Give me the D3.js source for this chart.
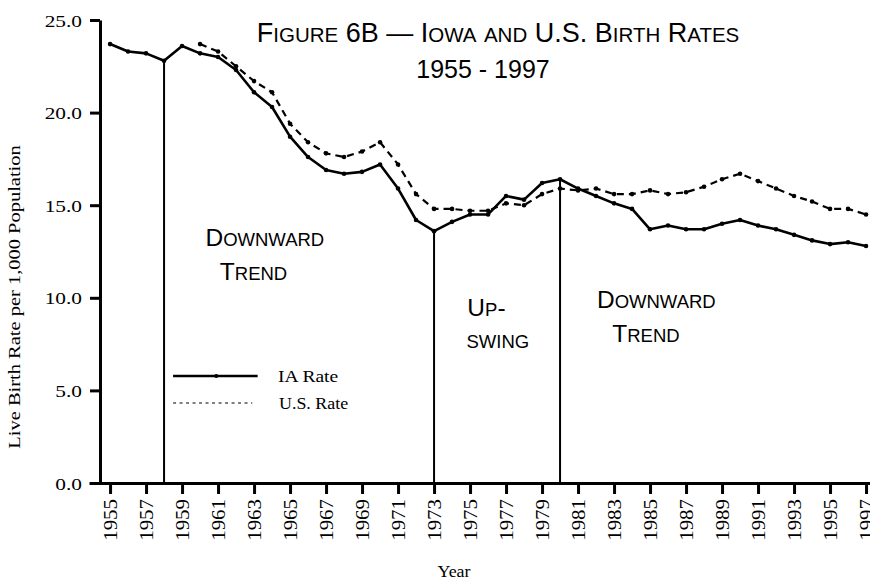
<!DOCTYPE html>
<html>
<head>
<meta charset="utf-8">
<script src="https://cdn.jsdelivr.net/npm/d3@7"></script>
<style>
  body { margin: 0; background: #fff; }
  svg { display: block; }
  .serif { font-family: "Liberation Serif", "Times New Roman", serif; fill: #000; }
  .sans { font-family: "Liberation Sans", Arial, sans-serif; fill: #000; }
</style>
</head>
<body>
<div id="chart"></div>
<script>
// Iowa rates 1955-1997, U.S. rates 1960-1997 (births per 1,000 population)
var iaYears = d3.range(1955, 1998);
var iaRates = [23.7, 23.3, 23.2, 22.8, 23.6, 23.2, 23.0, 22.3, 21.1, 20.3,
               18.7, 17.6, 16.9, 16.7, 16.8, 17.2, 15.9, 14.2, 13.6, 14.1,
               14.5, 14.5, 15.5, 15.3, 16.2, 16.4, 15.9, 15.5, 15.1, 14.8,
               13.7, 13.9, 13.7, 13.7, 14.0, 14.2, 13.9, 13.7, 13.4, 13.1,
               12.9, 13.0, 12.8];
var usYears = d3.range(1960, 1998);
var usRates = [23.7, 23.3, 22.5, 21.7, 21.1, 19.4, 18.4, 17.8, 17.6, 17.9,
               18.4, 17.2, 15.6, 14.8, 14.8, 14.7, 14.7, 15.1, 15.0, 15.6,
               15.9, 15.8, 15.9, 15.6, 15.6, 15.8, 15.6, 15.7, 16.0, 16.4,
               16.7, 16.3, 15.9, 15.5, 15.2, 14.8, 14.8, 14.5];
var xTicks = d3.range(1955, 1998, 2);
var yTicks = [0, 5, 10, 15, 20, 25];
// years where the trend turns
var turnYears = [1958, 1973, 1980];

var width = 870, height = 580;

var svg = d3.select('#chart').append('svg')
  .attr('width', width)
  .attr('height', height);

var x = d3.scaleLinear().domain([1953.83, 1997.22]).range([89, 870]);
var y = d3.scaleLinear().domain([0, 25]).range([483, 20]);

var ia = iaYears.map(function(yr, i) { return {year: yr, value: iaRates[i]}; });
var us = usYears.map(function(yr, i) { return {year: yr, value: usRates[i]}; });

// axes
var yAxis = svg.append('g')
  .attr('transform', 'translate(' + x(1955) + ',0)')
  .attr('transform', 'translate(100,0)')
  .call(d3.axisLeft(y).tickValues(yTicks).tickSize(10).tickSizeOuter(0).tickFormat(d3.format('.1f')));

yAxis.select('.domain').attr('stroke-width', 3);
yAxis.selectAll('.tick line').attr('stroke-width', 3);
yAxis.selectAll('.tick text')
  .attr('class', 'serif')
  .attr('font-size', null)
  .style('font-size', '17.5px')
  .attr('x', null).attr('dy', null)
  .attr('text-anchor', 'end')
  .attr('transform', 'translate(-18,6) scale(1.22,1)');

var xAxis = svg.append('g')
  .attr('transform', 'translate(0,' + y(0) + ')')
  .call(d3.axisBottom(x).tickValues(xTicks).tickSize(11).tickSizeOuter(0).tickFormat(d3.format('d')));

xAxis.select('.domain').attr('stroke-width', 3);
xAxis.selectAll('.tick line').attr('stroke-width', 3);
xAxis.selectAll('.tick text')
  .attr('class', 'serif')
  .style('font-size', '19px')
  .attr('y', null).attr('dy', null)
  .attr('text-anchor', 'end')
  .attr('transform', 'translate(6.5,16) rotate(-90) scale(1.1,1)');

svg.selectAll('.domain, .tick line').attr('stroke', '#000');

// axis titles
svg.append('text')
  .attr('class', 'serif')
  .style('font-size', '16px')
  .attr('text-anchor', 'middle')
  .attr('transform', 'translate(20,297) rotate(-90) scale(1.28,1)')
  .text('Live Birth Rate per 1,000 Population');

svg.append('text')
  .attr('class', 'serif')
  .style('font-size', '16px')
  .attr('text-anchor', 'middle')
  .attr('transform', 'translate(454,577) scale(1.12,1)')
  .text('Year');

// turning point verticals
svg.selectAll('.turn')
  .data(turnYears)
  .enter().append('line')
  .attr('class', 'turn')
  .attr('x1', function(d) { return x(d); })
  .attr('x2', function(d) { return x(d); })
  .attr('y1', function(d) { return y(iaRates[iaYears.indexOf(d)]); })
  .attr('y2', y(0))
  .attr('stroke', '#000')
  .attr('stroke-width', 2);

var line = d3.line()
  .x(function(d) { return x(d.year); })
  .y(function(d) { return y(d.value); });

svg.append('path')
  .datum(us)
  .attr('d', line)
  .attr('fill', 'none')
  .attr('stroke', '#000')
  .attr('stroke-width', 2.2)
  .attr('stroke-dasharray', '7,5');

svg.append('path')
  .datum(ia)
  .attr('d', line)
  .attr('fill', 'none')
  .attr('stroke', '#000')
  .attr('stroke-width', 2.6)
  .attr('stroke-linejoin', 'round');

svg.selectAll('.dot')
  .data(ia.concat(us))
  .enter().append('circle')
  .attr('class', 'dot')
  .attr('cx', function(d) { return x(d.year); })
  .attr('cy', function(d) { return y(d.value); })
  .attr('r', 2.3)
  .attr('fill', '#000');

// small caps text helper
function smallCaps(sel, str, big, small) {
  var parts = [];
  str.split('').forEach(function(ch) {
    var low = ch !== ch.toUpperCase();
    var last = parts[parts.length - 1];
    if (last && last.low === low) last.s += ch;
    else parts.push({s: ch, low: low});
  });
  parts.forEach(function(p) {
    sel.append('tspan')
      .style('font-size', (p.low ? small : big) + 'px')
      .text(p.s.toUpperCase());
  });
}

// title
var t1 = svg.append('text')
  .attr('class', 'sans')
  .attr('x', 498).attr('y', 42)
  .attr('text-anchor', 'middle');
smallCaps(t1, 'Figure 6B \u2014 Iowa and U.S. Birth Rates', 27, 20.5);

svg.append('text')
  .attr('class', 'sans')
  .attr('x', 483).attr('y', 78)
  .attr('text-anchor', 'middle')
  .style('font-size', '25px')
  .text('1955 - 1997');

// phase labels, placed in data units
var phaseText = ['Downward', 'Trend', 'Up-', 'swing', 'Downward', 'Trend'];
var phaseYear = [1960.3, 1961.1, 1974.85, 1974.8, 1982.05, 1982.9];
var phaseValue = [12.8, 10.95, 9.0, 7.3, 9.45, 7.6];

phaseText.forEach(function(s, i) {
  var t = svg.append('text')
    .attr('class', 'sans')
    .attr('x', x(phaseYear[i]))
    .attr('y', y(phaseValue[i]));
  smallCaps(t, s, 24.5, 18.5);
});

// legend
var legendY = [5.78, 4.32];
var lg = svg.append('g');
lg.append('line')
  .attr('x1', x(1958.5)).attr('x2', x(1963.2))
  .attr('y1', y(legendY[0])).attr('y2', y(legendY[0]))
  .attr('stroke', '#000').attr('stroke-width', 2.6);
lg.append('circle')
  .attr('cx', x(1960.9)).attr('cy', y(legendY[0]))
  .attr('r', 2).attr('fill', '#000');
lg.append('line')
  .attr('x1', x(1958.5)).attr('x2', x(1962.9))
  .attr('y1', y(legendY[1])).attr('y2', y(legendY[1]))
  .attr('stroke', '#000').attr('stroke-width', 1.2)
  .attr('stroke-dasharray', '3,3.5');
lg.append('text')
  .attr('class', 'serif')
  .style('font-size', '17px')
  .attr('transform', 'translate(278,' + (y(legendY[0]) + 6) + ') scale(1.15,1)')
  .text('IA Rate');
lg.append('text')
  .attr('class', 'serif')
  .style('font-size', '16px')
  .attr('transform', 'translate(279,' + (y(legendY[1]) + 6) + ') scale(1.12,1)')
  .text('U.S. Rate');
</script>
</body>
</html>
